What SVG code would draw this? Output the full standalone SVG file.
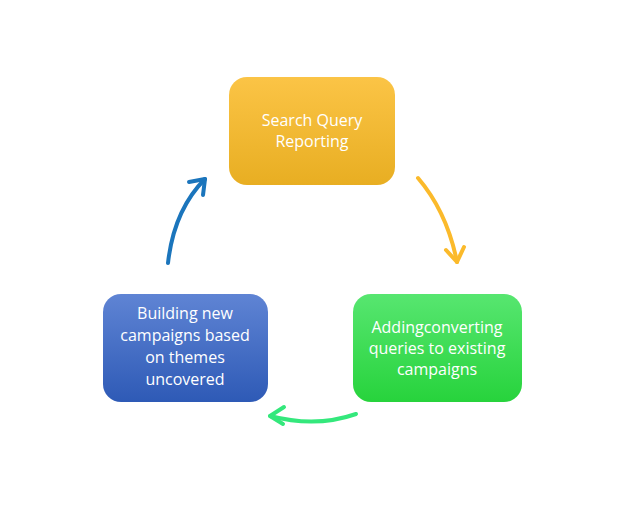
<svg xmlns="http://www.w3.org/2000/svg" width="635" height="520" viewBox="0 0 635 520">
<defs>
<linearGradient id="gY" x1="0" y1="0" x2="0" y2="1"><stop offset="0" stop-color="#FBC446"/><stop offset="1" stop-color="#E8AE22"/></linearGradient>
<linearGradient id="gG" x1="0" y1="0" x2="0" y2="1"><stop offset="0" stop-color="#57E670"/><stop offset="1" stop-color="#27D33C"/></linearGradient>
<linearGradient id="gB" x1="0" y1="0" x2="0" y2="1"><stop offset="0" stop-color="#5F84D4"/><stop offset="1" stop-color="#2E5AB6"/></linearGradient>
<style>
.lbl{font-family:"Open Sans","Liberation Sans",sans-serif;font-size:16px;fill:#fff;text-anchor:middle}
.arr{fill:none;stroke-width:4;stroke-linecap:round;stroke-linejoin:round}
</style>
</defs>
<rect width="635" height="520" fill="#fff"/>
<g id="connectors">
<path class="arr" stroke="#FBBA2B" d="M418,178 Q447,212 457,262"/>
<path class="arr" stroke="#FBBA2B" d="M446,250 L457,262 L464,247"/>
<path class="arr" stroke="#34E87C" d="M356,414 Q316,428 270,416"/>
<path class="arr" stroke="#34E87C" d="M284,407 L270,416 L283,424"/>
<path class="arr" stroke="#1B75BC" d="M168,263 Q174,210 205,179"/>
<path class="arr" stroke="#1B75BC" d="M189,182 L205,179 L203,195"/>
</g>
<g id="node-search">
<rect x="229" y="77" width="166" height="108" rx="18" fill="url(#gY)"/>
<text class="lbl" x="312" y="126">Search Query</text>
<text class="lbl" x="312" y="147">Reporting</text>
</g>
<g id="node-adding">
<rect x="353" y="294" width="169" height="108" rx="18" fill="url(#gG)"/>
<text class="lbl" x="437" y="333">Addingconverting</text>
<text class="lbl" x="437" y="354">queries to existing</text>
<text class="lbl" x="437" y="375">campaigns</text>
</g>
<g id="node-building">
<rect x="103" y="294" width="165" height="108" rx="18" fill="url(#gB)"/>
<text class="lbl" x="185" y="319">Building new</text>
<text class="lbl" x="185" y="341">campaigns based</text>
<text class="lbl" x="185" y="363">on themes</text>
<text class="lbl" x="185" y="385">uncovered</text>
</g>
</svg>
